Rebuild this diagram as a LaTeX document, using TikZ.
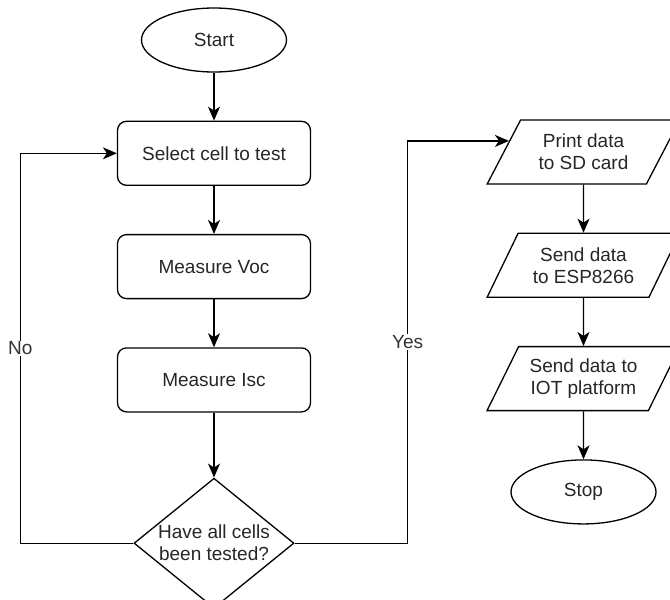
\documentclass[tikz,border=0pt]{standalone}
\usepackage{fontspec}
\setmainfont{Liberation Sans}
\usepackage{tikz}
\usetikzlibrary{arrows.meta, positioning, calc, shapes.geometric}
\tikzset{every node/.style={font=\fontsize{19}{22}\selectfont, text=black!85}}

\begin{document}
\begin{tikzpicture}[x=1pt, y=-1pt, line width=1.3pt,
    terminal/.style={draw, ellipse, minimum width=145pt, minimum height=64pt},
    process/.style={draw, rounded corners=9pt, minimum width=193pt, minimum height=64pt},
    inout/.style={draw, trapezium, trapezium left angle=59, trapezium right angle=121,
      trapezium stretches=true, minimum width=193pt, minimum height=64pt, align=center},
    decision/.style={draw, diamond, minimum width=160pt, minimum height=130pt, inner sep=0pt},
    flow/.style={-{Stealth[length=14pt, width=12pt, inset=4pt]}},
    branch/.style={fill=white, inner sep=1pt, text=black!80}]
    \useasboundingbox (0,0) rectangle (670,600);
    % measuring loop
    \node[terminal] (start) at (214,40) {Start};
    \node[process, below=48pt of start] (select) {Select cell to test};
    \node[process, below=48pt of select] (voc) {Measure Voc};
    \node[process, below=48pt of voc] (isc) {Measure Isc};
    \node[decision, below=65pt of isc] (check) {};
    \node[align=center] (checktext) at (check) {Have all cells\\been tested?};
    % output column
    \node[inout] (sdcard) at (583.5,152) {Print data\\to SD card};
    \node[inout, below=48pt of sdcard] (esp) {Send data\\to ESP8266};
    \node[inout, below=48pt of esp] (iot) {Send data to\\IOT platform};
    \node[terminal, below=48pt of iot] (stop) {Stop};
    \coordinate (sdin) at ($(sdcard.bottom left corner)!0.67!(sdcard.top left corner)$);

    \draw[flow] (start) -- (select);
    \draw[flow] (select) -- (voc);
    \draw[flow] (voc) -- (isc);
    \draw[flow] (isc) -- (check);
    \draw[flow] (check.west) -- ++(-113,0) |- node[branch, pos=0.25] {No} (select.west);
    \draw[flow] (check.east) -- ++(113,0) |- node[branch, pos=0.25] {Yes} (sdin);
    \draw[flow] (sdcard) -- (esp);
    \draw[flow] (esp) -- (iot);
    \draw[flow] (iot) -- (stop);
\end{tikzpicture}
\end{document}
